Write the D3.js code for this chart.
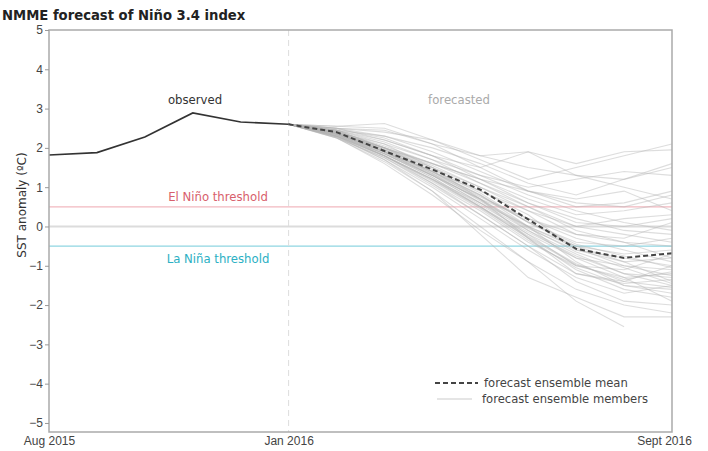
<!DOCTYPE html>
<html>
<head>
<meta charset="utf-8">
<script src="https://cdn.jsdelivr.net/npm/d3@7"></script>
<style>
  body { margin: 0; background: #fff; }
  svg { font-family: "DejaVu Sans", sans-serif; }
  .axis path, .axis line { stroke: #999; }
  .axis text { fill: #444; font-size: 12px; }
</style>
</head>
<body>
<div id="chart"></div>
<script>
// months from Aug 2015 (index 0) to Sept 2016 (index 13)
var monthLabels = ["Aug 2015", "Jan 2016", "Sept 2016"];
var monthTicks = [0, 5, 13];

// observed Nino 3.4 anomaly, Aug 2015 .. Jan 2016
var observed = [1.82, 1.88, 2.28, 2.89, 2.66, 2.6];

// ensemble mean, Jan 2016 .. Sept 2016
var ensembleMean = [2.6, 2.4, 1.92, 1.45, 0.94, 0.18, -0.57, -0.8, -0.68];

// ensemble members, Feb .. Sept 2016 (all start from the Jan observed value)
var members = [
  [2.55, 2.62, 2.2, 1.7, 1.2, 1.5, 1.8, 2.1],
  [2.5, 2.45, 2.1, 1.8, 1.9, 1.6, 1.9, 1.95],
  [2.45, 2.2, 1.8, 1.5, 1.9, 1.3, 1.2, 1.5],
  [2.4, 2.1, 1.7, 1.3, 1.0, 1.2, 1.4, 1.3],
  [2.5, 2.3, 1.9, 1.4, 0.9, 0.6, 0.5, 0.8],
  [2.35, 2.0, 1.6, 1.2, 0.7, 0.3, 0.4, 0.6],
  [2.45, 2.15, 1.7, 1.1, 0.5, 0.0, 0.2, 0.3],
  [2.4, 2.0, 1.5, 1.0, 0.4, -0.2, -0.3, 0.1],
  [2.38, 1.95, 1.4, 0.8, 0.1, -0.4, -0.5, -0.3],
  [2.42, 2.05, 1.6, 1.1, 0.6, 0.2, -0.1, -0.2],
  [2.3, 1.85, 1.3, 0.7, 0.0, -0.5, -0.7, -0.6],
  [2.35, 1.9, 1.35, 0.75, 0.2, -0.3, -0.6, -0.9],
  [2.4, 1.95, 1.5, 0.9, 0.3, -0.6, -0.9, -0.8],
  [2.3, 1.8, 1.2, 0.5, -0.2, -0.8, -1.0, -1.1],
  [2.35, 1.85, 1.3, 0.6, -0.1, -0.7, -1.2, -1.3],
  [2.25, 1.75, 1.1, 0.4, -0.4, -1.0, -1.3, -1.2],
  [2.4, 1.9, 1.4, 0.8, 0.0, -0.9, -1.5, -1.6],
  [2.3, 1.8, 1.2, 0.5, -0.3, -1.1, -1.6, -1.8],
  [2.28, 1.7, 1.0, 0.2, -0.6, -1.3, -1.7, -1.5],
  [2.35, 1.8, 1.1, 0.3, -0.5, -1.4, -1.9, -2.0],
  [2.25, 1.65, 0.9, 0.0, -0.9, -1.6, -2.0, -2.2],
  [2.3, 1.7, 0.9, -0.2, -1.3, -1.8, -2.3, -2.3],
  [2.45, 2.1, 1.5, 0.7, -0.3, -1.2, -1.4, -1.0],
  [2.4, 2.0, 1.45, 0.85, 0.1, -0.5, -0.9, -1.4],
  [2.38, 1.9, 1.3, 0.6, -0.2, -1.0, -1.1, -0.7],
  [2.45, 2.0, 1.55, 1.0, 0.5, -0.1, -0.4, -0.5],
  [2.5, 2.2, 1.8, 1.3, 0.8, 0.4, 0.1, -0.1],
  [2.42, 2.0, 1.6, 1.2, 0.9, 0.7, 0.9, 0.4],
  [2.35, 1.9, 1.4, 0.9, 0.4, 0.0, -0.2, -0.4],
  [2.32, 1.85, 1.25, 0.55, -0.15, -0.75, -1.2, -1.5],
  [2.3, 1.8, 1.15, 0.45, -0.35, -1.05, -1.5, -1.7],
  [2.45, 2.0, 1.4, 0.7, -0.1, -0.8, -1.3, -1.9],
  [2.4, 1.95, 1.35, 0.65, -0.05, -0.6, -0.8, -1.0],
  [2.28, 1.75, 1.05, 0.3, -0.5, -1.2, -1.45, -1.35],
  [2.38, 1.9, 1.3, 0.7, 0.2, -0.2, -0.4, -0.8],
  [2.55, 2.5, 2.1, 1.5, 0.9, 0.5, 0.6, 0.9],
  [2.48, 2.25, 1.8, 1.2, 0.6, 0.1, 0.0, 0.2],
  [2.33, 1.8, 1.2, 0.6, 0.0, -0.55, -1.0, -1.25],
  [2.36, 1.85, 1.25, 0.5, -0.25, -0.95, -1.4, -1.55],
  [2.26, 1.6, 0.8, -0.1, -0.9, -1.9, -2.55, null],
  [2.5, 2.4, 2.2, 1.8, 1.5, 1.3, 1.0, 0.7],
  [2.45, 2.3, 2.0, 1.6, 1.1, 0.8, 1.2, 1.6],
  [2.35, 1.88, 1.32, 0.68, -0.02, -0.65, -1.05, -1.45],
  [2.3, 1.78, 1.18, 0.48, -0.28, -0.98, -1.35, -1.15],
  [2.4, 1.92, 1.38, 0.78, 0.12, -0.45, -0.75, -1.05]
];

var elNino = 0.5, laNina = -0.5;

var width = 708, height = 451;
var margin = {top: 30, right: 36, bottom: 19, left: 49};

var svg = d3.select("#chart").append("svg")
    .attr("width", width)
    .attr("height", height);

var x = d3.scaleLinear().domain([0, 13]).range([margin.left, width - margin.right]);
var y = d3.scaleLinear().domain([-5.23, 5]).range([height - margin.bottom, margin.top]);

var janIdx = observed.length - 1;

// threshold + zero lines
svg.append("line")
    .attr("x1", x(0)).attr("x2", x(13))
    .attr("y1", y(0)).attr("y2", y(0))
    .attr("stroke", "#dcdcdc").attr("stroke-width", 2);
svg.append("line")
    .attr("x1", x(0)).attr("x2", x(13))
    .attr("y1", y(elNino)).attr("y2", y(elNino))
    .attr("stroke", "#f2b8bf").attr("stroke-width", 1.2);
svg.append("line")
    .attr("x1", x(0)).attr("x2", x(13))
    .attr("y1", y(laNina)).attr("y2", y(laNina))
    .attr("stroke", "#8fd6e2").attr("stroke-width", 1.2);

// Jan 2016 divider
svg.append("line")
    .attr("x1", x(janIdx)).attr("x2", x(janIdx))
    .attr("y1", y(5)).attr("y2", y(-5.23))
    .attr("stroke", "#ddd").attr("stroke-dasharray", "6,4");

var line = d3.line()
    .defined(d => d[1] != null)
    .x(d => x(d[0]))
    .y(d => y(d[1]));

// members
svg.append("g").selectAll("path")
  .data(members)
  .enter().append("path")
    .attr("d", m => line([[janIdx, observed[janIdx]]].concat(m.map((v, i) => [janIdx + 1 + i, v]))))
    .attr("fill", "none")
    .attr("stroke", "#b4b4b4")
    .attr("stroke-opacity", 0.45)
    .attr("stroke-width", 1.1);

// observed
svg.append("path")
    .attr("d", line(observed.map((v, i) => [i, v])))
    .attr("fill", "none")
    .attr("stroke", "#333")
    .attr("stroke-width", 1.6);

// mean
svg.append("path")
    .attr("d", line(ensembleMean.map((v, i) => [janIdx + i, v])))
    .attr("fill", "none")
    .attr("stroke", "#444")
    .attr("stroke-width", 2)
    .attr("stroke-dasharray", "5,3");

// frame
svg.append("rect")
    .attr("x", x(0)).attr("y", y(5))
    .attr("width", x(13) - x(0))
    .attr("height", y(-5.23) - y(5))
    .attr("fill", "none")
    .attr("stroke", "#aaa")
    .attr("stroke-width", 1.5);

// axes
var yAxis = svg.append("g")
    .attr("class", "axis")
    .attr("transform", "translate(" + x(0) + ",0)")
    .call(d3.axisLeft(y).tickValues(d3.range(-5, 6)).tickSize(4).tickPadding(2));
yAxis.select(".domain").remove();

var xAxis = svg.append("g")
    .attr("class", "axis")
    .attr("transform", "translate(0," + y(-5.23) + ")")
    .call(d3.axisBottom(x).tickValues(monthTicks).tickSize(0).tickPadding(4)
      .tickFormat((d, i) => monthLabels[i]));
xAxis.select(".domain").remove();
xAxis.selectAll("text").filter(d => d === 13).attr("dx", -8);

// labels
svg.append("text")
    .attr("x", 2).attr("y", 20)
    .attr("font-size", 13.2).attr("font-weight", 600).attr("fill", "#222")
    .text("NMME forecast of Niño 3.4 index");

svg.append("text")
    .attr("transform", "translate(26,205) rotate(-90)")
    .attr("text-anchor", "middle")
    .attr("font-size", 12).attr("fill", "#333")
    .text("SST anomaly (ºC)");

svg.append("text")
    .attr("x", 195).attr("y", 104)
    .attr("text-anchor", "middle").attr("font-size", 11.7).attr("fill", "#333")
    .text("observed");
svg.append("text")
    .attr("x", 459).attr("y", 104)
    .attr("text-anchor", "middle").attr("font-size", 11.7).attr("fill", "#aaa")
    .text("forecasted");

svg.append("text")
    .attr("x", 218).attr("y", 201)
    .attr("text-anchor", "middle").attr("font-size", 11.7).attr("fill", "#d8606c")
    .text("El Niño threshold");
svg.append("text")
    .attr("x", 218).attr("y", 263)
    .attr("text-anchor", "middle").attr("font-size", 11.7).attr("fill", "#2bb0c4")
    .text("La Niña threshold");

// legend
var legend = svg.append("g").attr("transform", "translate(435,383)");
legend.append("line")
    .attr("x1", 0).attr("x2", 43).attr("y1", 0).attr("y2", 0)
    .attr("stroke", "#444").attr("stroke-width", 1.8).attr("stroke-dasharray", "5,3");
legend.append("text")
    .attr("x", 49).attr("y", 4).attr("font-size", 11.6).attr("fill", "#444")
    .text("forecast ensemble mean");
legend.append("line")
    .attr("x1", 2).attr("x2", 37).attr("y1", 16).attr("y2", 16)
    .attr("stroke", "#ccc").attr("stroke-width", 1.2);
legend.append("text")
    .attr("x", 47).attr("y", 20).attr("font-size", 11.6).attr("fill", "#444")
    .text("forecast ensemble members");
</script>
</body>
</html>
